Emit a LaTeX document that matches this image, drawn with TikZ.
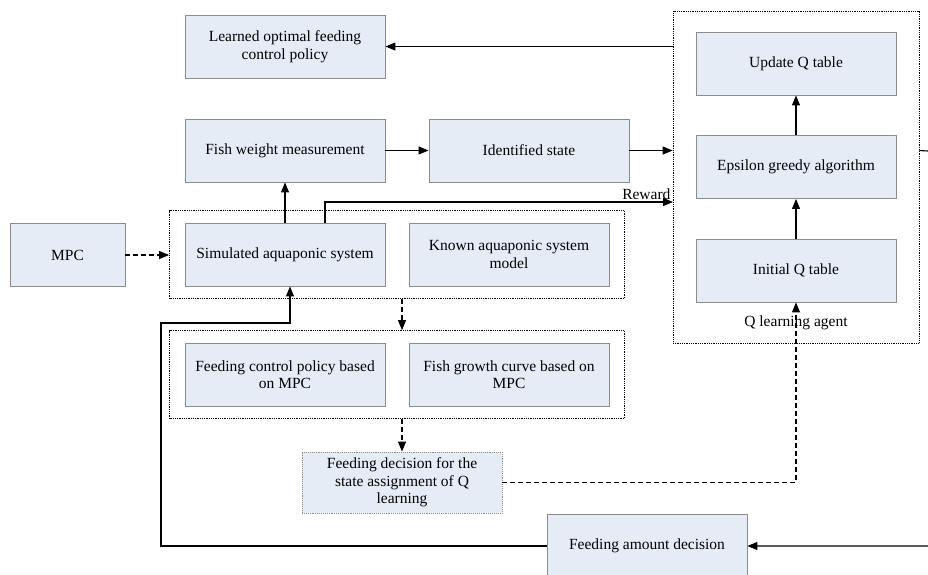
\documentclass[tikz,border=0pt]{standalone}
\usepackage{fontspec}
\setmainfont{Liberation Serif}
\usetikzlibrary{arrows.meta,fit}
\definecolor{boxfill}{HTML}{E6ECF5}
\definecolor{boxline}{HTML}{8C8C8C}
\begin{document}
\begin{tikzpicture}[x=1pt,y=-1pt]
      \tikzset{block/.style={draw=boxline,fill=boxfill,line width=0.9pt,align=center,minimum width=200pt,minimum height=63pt,font=\fontsize{15.5}{17.5}\selectfont},
        group/.style={draw,densely dotted,line width=0.8pt,inner sep=0pt},
        arr/.style={line width=1.1pt,-{Triangle[length=10pt,width=8pt]}},
        darr/.style={arr,dash pattern=on 5pt off 3pt},
        lbl/.style={font=\fontsize{15.5}{17.5}\selectfont,inner sep=1pt}}
      \useasboundingbox (0,0) rectangle (928,574);
      \node[block] (learned) at (285,46.5) {Learned optimal feeding\\control policy};
      \node[block] (fishw) at (285,150.5) {Fish weight measurement};
      \node[block] (ident) at (529,150.5) {Identified state};
      \node[block,minimum width=115pt] (mpc) at (67.5,255) {MPC};
      \node[block] (sim) at (285,254.5) {Simulated aquaponic system};
      \node[block] (known) at (509,254.5) {Known aquaponic system\\model};
      \node[block] (fcp) at (285,374.5) {Feeding control policy based\\on MPC};
      \node[block] (fgc) at (509,374.5) {Fish growth curve based on\\MPC};
      \node[block,densely dotted,minimum height=61pt] (fdec) at (402,482.5) {Feeding decision for the\\state assignment of Q\\learning};
      \node[block,minimum height=64pt] (famt) at (647,546) {Feeding amount decision};
      \node[block] (upd) at (796,63.5) {Update Q table};
      \node[block] (eps) at (796,167) {Epsilon greedy algorithm};
      \node[block] (iniq) at (796,270.5) {Initial Q table};
      % dotted frames
      \node[group,inner xsep=15pt,inner ysep=12pt,fit=(sim)(known)] (g1) {};
      \node[group,inner xsep=15pt,inner ysep=12pt,fit=(fcp)(fgc)] (g2) {};
      \node[group,minimum width=246pt,minimum height=332pt] (agent) at (796,177) {};
      \node[lbl] (agentlbl) at (796,323) {Q learning agent};
      \coordinate (rw) at (673,202);
      \coordinate (rt) at (945,152);
      \coordinate (lb) at (161,323);
      % connectors
      \draw[arr] (agent.west |- learned.east) -- (learned.east);
      \draw[arr] (fishw) -- (ident);
      \draw[arr] (ident.east) -- (agent.west |- ident.east);
      \draw[arr] (sim) -- (fishw);
      \draw[arr] ([xshift=40pt]sim.north) |- (rw) node[lbl,above left,xshift=-1pt,yshift=1pt] (reward) {Reward};
      \draw[arr] (eps) -- (upd);
      \draw[arr] (iniq) -- (eps);
      \draw[darr] (mpc.east) -- (g1.west |- mpc.east);
      \draw[darr] (fdec.north |- g1.south) -- (fdec.north |- g2.north);
      \draw[darr] (fdec.north |- g2.south) -- (fdec.north);
      \draw[darr] (fdec.east) -| (iniq.south);
      \draw[arr] (agent.east |- ident.east) -- (rt) |- (famt.east);
      \draw[arr] (famt.west) -| (lb) -| ([xshift=5pt]sim.south);
\end{tikzpicture}
\end{document}
